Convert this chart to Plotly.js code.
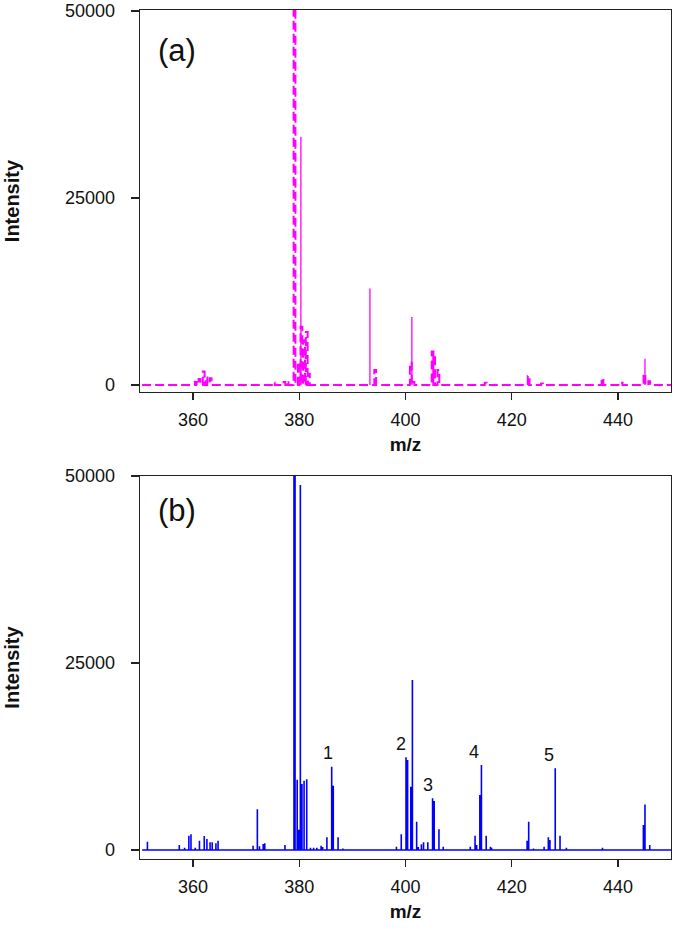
<!DOCTYPE html>
<html>
<head>
<meta charset="utf-8">
<script src="https://cdn.plot.ly/plotly-3.0.1.min.js"></script>
<style>html,body{margin:0;padding:0;background:#fff;}#chart{width:675px;height:935px;}</style>
</head>
<body>
<div id="chart"></div>
<script>
// ---------- Data ----------
// Panel (a): dashed magenta spectrum (m/z, intensity)
const dashA_mz = [360.5, 361.2, 362.0, 362.5, 363.3, 375.2, 377.2, 377.8, 379.1, 379.9, 380.4, 380.9, 381.4, 381.8, 394.3, 401.0, 401.5, 405.1, 405.4, 406.2, 415.1, 423.2, 425.7, 437.1, 440.7, 445.0, 445.9];
const dashA_I  = [400, 800, 1800, 1000, 900, 300, 400, 500, 60000, 3000, 7800, 6000, 7100, 1500, 2000, 3000, 400, 4500, 4300, 2000, 300, 1200, 200, 900, 300, 1500, 500];
// Panel (a): solid magenta sticks
const solidA_mz = [380.3, 393.3, 401.2, 445.1];
const solidA_I  = [33200, 12900, 9100, 3500];
// Panel (b): blue spectrum
const specB_mz = [351.4, 357.4, 358.4, 359.2, 359.6, 360.4, 361.2, 362.1, 362.6, 363.2, 363.6, 364.3, 364.7,
  371.3, 372.1, 372.5, 373.2, 373.5, 377.3, 379.0, 379.2, 379.6, 379.9, 380.2, 380.5, 380.9, 381.4,
  382.1, 382.7, 383.3, 384.1, 384.4, 385.2, 386.1, 386.4, 387.3, 388.2, 398.3, 399.2, 400.1, 400.4,
  401.0, 401.3, 402.1, 402.4, 403.0, 403.4, 404.2, 405.1, 405.4, 406.3, 407.1, 412.2, 413.1, 413.4,
  414.0, 414.3, 415.2, 416.0, 416.2, 422.9, 423.2, 424.1, 426.1, 426.9, 427.2, 428.2, 429.1, 430.3,
  437.1, 444.8, 445.1, 446.0];
const specB_I = [1100, 670, 300, 1900, 2100, 300, 1250, 1870, 1470, 1030, 1030, 890, 1250,
  580, 5440, 500, 800, 900, 670, 60000, 60000, 9400, 2700, 48800, 8820, 9270, 9450,
  300, 300, 300, 580, 400, 1700, 11140, 8600, 1700, 200, 450, 2100, 12390, 12030,
  8470, 22730, 3790, 400, 760, 1030, 1030, 6910, 6550, 2760, 450, 450, 1910, 670,
  7350, 11360, 1910, 450, 300, 1250, 3790, 200, 450, 1700, 1340, 10920, 1910, 300,
  300, 3340, 6100, 670];
// Peak labels in panel (b)
const peakLabels = ["1", "2", "3", "4", "5"];
const peakLabel_mz = [385.4, 399.2, 404.3, 412.9, 427.0];
const peakLabel_I  = [12970, 14170, 8690, 13100, 12700];
// Axis ticks
const xTicks = [360, 380, 400, 420, 440];
const yTicks = [0, 25000, 50000];
const xRange = [350, 450];

// ---------- Build paths ----------
function boxPath(mz, I, hw, x0, x1) {
  const xs = [x0], ys = [0];
  mz.forEach((m, i) => { xs.push(m - hw, m - hw, m + hw, m + hw); ys.push(0, I[i], I[i], 0); });
  xs.push(x1); ys.push(0);
  return {x: xs, y: ys};
}
function stickPath(mz, I, x0, x1) {
  const xs = [x0], ys = [0];
  mz.forEach((m, i) => { xs.push(m, m, m); ys.push(0, I[i], 0); });
  xs.push(x1); ys.push(0);
  return {x: xs, y: ys};
}
function sticks(mz, I) {
  const xs = [], ys = [];
  mz.forEach((m, i) => { xs.push(m, m, null); ys.push(0, I[i], null); });
  return {x: xs, y: ys};
}
const pA = boxPath(dashA_mz, dashA_I, 0.17, xRange[0] + 0.4, xRange[1]);
const sA = sticks(solidA_mz, solidA_I);
const pB = stickPath(specB_mz, specB_I, xRange[0] + 0.4, xRange[1]);

const MAG = '#ff00ff', BLUE = '#0000ff';
const traces = [
  {type: 'scatter', mode: 'lines', x: sA.x, y: sA.y, xaxis: 'x', yaxis: 'y',
   line: {color: MAG, width: 1.3}, showlegend: false, hoverinfo: 'skip'},
  {type: 'scatter', mode: 'lines', x: pA.x, y: pA.y, xaxis: 'x', yaxis: 'y',
   line: {color: MAG, width: 2, dash: '9px,4px'}, showlegend: false, hoverinfo: 'skip'},
  {type: 'scatter', mode: 'lines', x: pB.x, y: pB.y, xaxis: 'x2', yaxis: 'y2',
   line: {color: BLUE, width: 1.6}, showlegend: false, hoverinfo: 'skip'}
];

const FONT = 'Liberation Sans, Arial, sans-serif';
function xax(anchor) {
  return {anchor: anchor, range: xRange, tickvals: xTicks, ticktext: xTicks.map(String),
    ticks: 'outside', ticklen: 7, tickwidth: 1.3, tickcolor: '#222',
    showline: true, linecolor: '#222', linewidth: 1.3, mirror: true,
    showgrid: false, zeroline: false, ticklabelstandoff: 4,
    tickfont: {family: FONT, size: 18, color: '#111'},
    title: {text: 'm/z', font: {family: FONT, size: 19, color: '#111', weight: 'bold'}, standoff: 8}};
}
function yax(anchor, domain, range) {
  return {anchor: anchor, domain: domain, range: range, tickvals: yTicks, ticktext: yTicks.map(String),
    ticks: 'outside', ticklen: 8, tickwidth: 1.3, tickcolor: '#222',
    showline: true, linecolor: '#222', linewidth: 1.3, mirror: true,
    showgrid: false, zeroline: false, ticklabelstandoff: 12,
    tickfont: {family: FONT, size: 18, color: '#111'},
    title: {text: 'Intensity', font: {family: FONT, size: 20, color: '#111', weight: 'bold'}, standoff: 40}};
}

const layout = {
  width: 675, height: 935,
  margin: {l: 140, r: 4, t: 10, b: 76},
  paper_bgcolor: '#fff', plot_bgcolor: '#fff',
  xaxis: Object.assign(xax('y'), {domain: [0, 1]}),
  xaxis2: Object.assign(xax('y2'), {domain: [0, 1]}),
  yaxis: yax('x', [0.55, 1], [-936, 50134]),
  yaxis2: yax('x2', [0, 0.4511], [-1203, 50000]),
  annotations: [
    {text: '(a)', xref: 'x domain', yref: 'y domain', x: 0.07, y: 0.895, showarrow: false,
     xanchor: 'center', yanchor: 'middle', font: {family: FONT, size: 31, color: '#111'}},
    {text: '(b)', xref: 'x2 domain', yref: 'y2 domain', x: 0.07, y: 0.911, showarrow: false,
     xanchor: 'center', yanchor: 'middle', font: {family: FONT, size: 31, color: '#111'}}
  ].concat(peakLabels.map((t, i) => ({
    text: t, xref: 'x2', yref: 'y2', x: peakLabel_mz[i], y: peakLabel_I[i], showarrow: false,
    xanchor: 'center', yanchor: 'middle', font: {family: FONT, size: 18, color: '#111'}
  })))
};

Plotly.newPlot('chart', traces, layout, {displayModeBar: false, staticPlot: true});
</script>
</body>
</html>
